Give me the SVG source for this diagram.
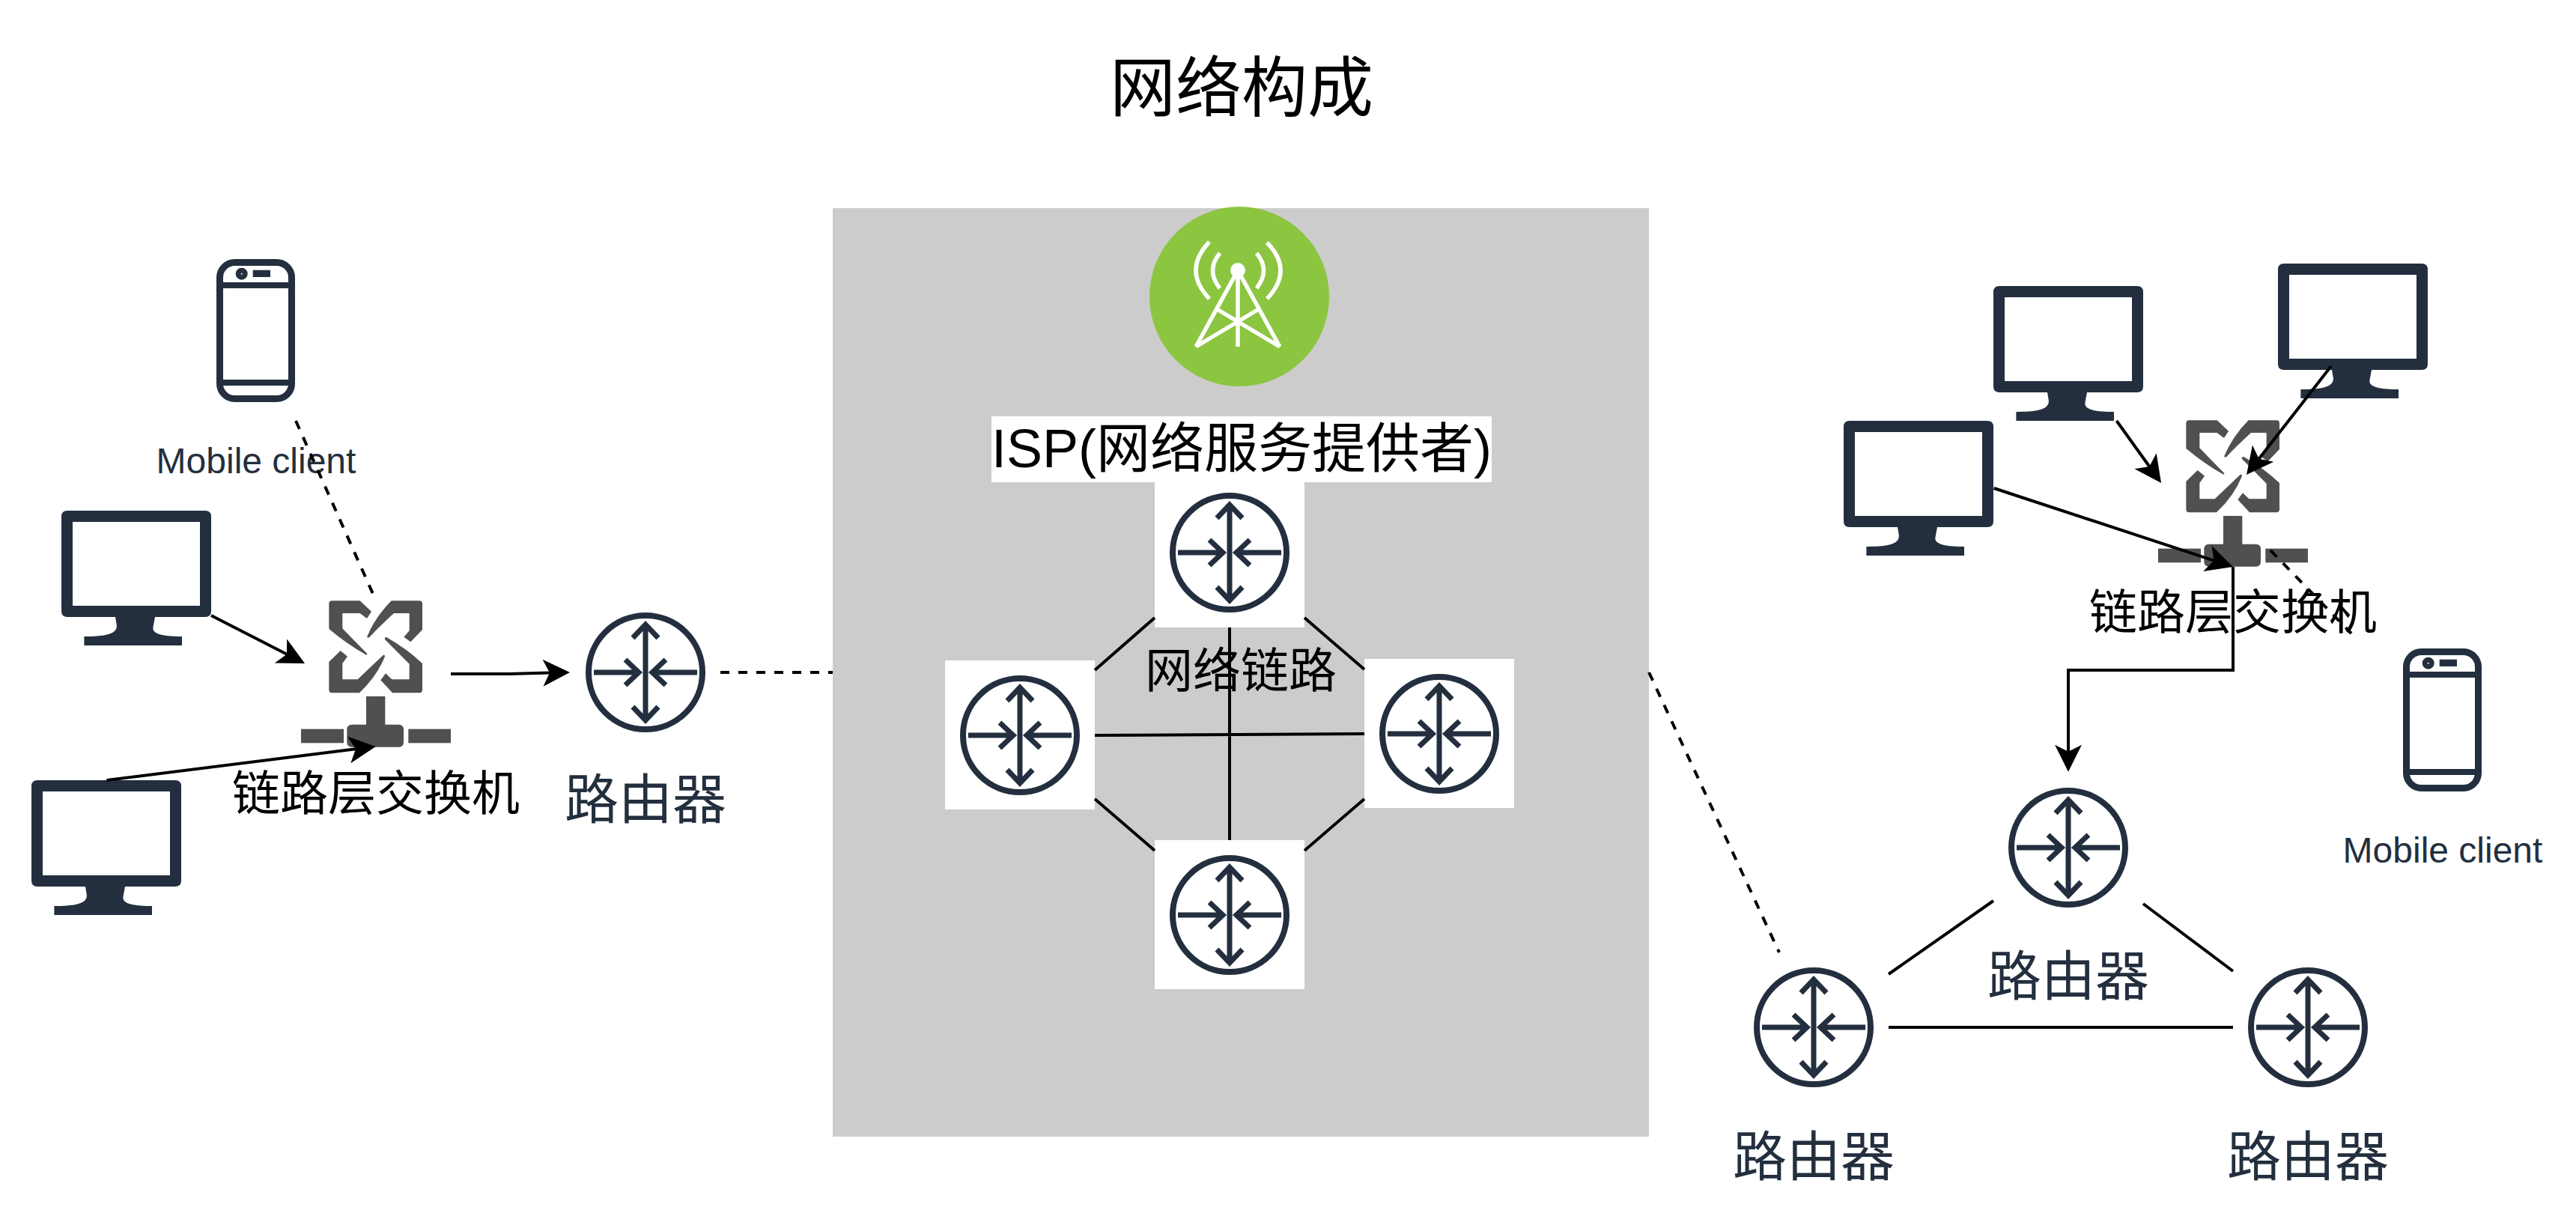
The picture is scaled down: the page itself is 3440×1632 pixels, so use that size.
<svg xmlns="http://www.w3.org/2000/svg" xmlns:xlink="http://www.w3.org/1999/xlink" width="3440" height="1632" viewBox="0 0 3440 1632">
<style>
text{font-family:"Liberation Sans","Noto Sans CJK SC",sans-serif;text-anchor:middle}
.t{fill:#000}
.n{fill:#232F3E}
.s64{font-size:64px}
.s72{font-size:72px}
.s48{font-size:48px}
.ln{fill:none;stroke:#000;stroke-width:4}
.arr{marker-end:url(#head)}
.dash{stroke-dasharray:12 12}
.sq{fill:#fff}
.tw{fill:none;stroke:#fff;stroke-width:5.5}
</style>
<defs>
<marker id="head" markerUnits="userSpaceOnUse" markerWidth="40" markerHeight="40" refX="9" refY="18" orient="auto" overflow="visible"><path d="M36 18L0 0L9 18L0 36Z" fill="#000"/></marker>
<g id="router" fill="none" stroke="#232F3E" stroke-width="7">
<circle r="76" stroke-width="8"/>
<path d="M0-62V62M-17-46L0-64L17-46M-17 46L0 64L17 46M-69 0H-10M-27-17L-9 0L-27 17M69 0H10M27-17L9 0L27 17"/>
</g>
<g id="monitor" fill="#232F3E">
<path fill-rule="evenodd" d="M8 0H192Q200 0 200 8V134Q200 142 192 142H8Q0 142 0 134V8Q0 0 8 0ZM15 15V127H185V15Z"/>
<path d="M30.4 168C55 168 76 166 73.7 152L72 142H125L122.4 156C121 166 140 168 161 168V180H30.4Z"/>
</g>
<g id="phone">
<rect x="4.5" y="4.5" width="96" height="182" rx="20" fill="none" stroke="#232F3E" stroke-width="9"/>
<path d="M4 35H101M4 165H101" stroke="#232F3E" stroke-width="8" fill="none"/>
<circle cx="33.7" cy="19.7" r="4.5" fill="none" stroke="#232F3E" stroke-width="7"/>
<rect x="48.7" y="14.7" width="23.3" height="9.3" fill="#232F3E"/>
</g>
<g id="switch" fill="#505050" transform="scale(.3333)">
<path d="M190 67H302L348 110L330 138L302 117H232V178Q280 228 331 279Q332 285 325 283Q250 240 178 180V79Q178 67 190 67Z"/>
<path d="M428 67H540Q552 67 552 79V183L505 232L478 212L500 187V117H438Q380 170 340 213Q331 218 331 210Q365 130 428 67Z"/>
<path d="M540 436H432L385 385L405 358L430 382H500V320Q450 270 402 222Q400 210 410 214Q490 260 552 318V424Q552 436 540 436Z"/>
<path d="M190 436H300Q370 370 402 290Q400 280 394 286L293 382H232V318L252 290L224 267L178 312V424Q178 436 190 436Z"/>
<path d="M327 450H403V563H457Q477 563 477 583V633Q477 653 457 653H270Q250 653 250 633V583Q250 563 270 563H327Z"/>
<rect x="66" y="581" width="171" height="56"/>
<rect x="496" y="581" width="170" height="56"/>
</g>
</defs>
<rect width="3440" height="1632" fill="#fff"/>
<g id="title"><text class="t" x="1658" y="148" style="font-size:88px">网络构成</text></g>
<g id="isp-area">
<rect x="1112" y="278" width="1090" height="1240" fill="#CCCCCC"/>
</g>
<g id="isp-tower">
<circle cx="1655" cy="396" r="120" fill="#8CC540"/>
<circle cx="1653" cy="361" r="10" fill="#fff"/>
<path class="tw" d="M1653 361L1597 463M1653 361L1709 463M1653 361V463M1627 414L1709 463M1679 414L1597 463"/>
<path class="tw" d="M1629 338Q1610 361 1629 385M1615 323Q1579 361 1615 399M1678 338Q1697 361 1678 385M1692 324Q1728 361 1692 399"/>
</g>
<g id="isp-label">
<rect x="1324" y="556" width="668" height="88" fill="#fff"/>
<text class="t s72" x="1658" y="624">ISP(网络服务提供者)</text>
</g>
<g id="isp-router-top"><rect class="sq" x="1542" y="644" width="200" height="194"/><use href="#router" x="1642" y="738"/></g>
<g id="isp-router-left"><rect class="sq" x="1262" y="882" width="200" height="199"/><use href="#router" x="1362" y="982"/></g>
<g id="isp-router-right"><rect class="sq" x="1822" y="880" width="200" height="199"/><use href="#router" x="1922" y="980"/></g>
<g id="isp-router-bottom"><rect class="sq" x="1542" y="1122" width="200" height="199"/><use href="#router" x="1642" y="1222"/></g>
<g id="isp-link-label"><text class="t s64" x="1657" y="918">网络链路</text></g>

<g id="left-phone"><use href="#phone" x="289" y="346"/><text class="n s48" x="342" y="632">Mobile client</text></g>
<g id="left-monitor-1"><use href="#monitor" x="82" y="682"/></g>
<g id="left-monitor-2"><use href="#monitor" x="42" y="1042"/></g>
<g id="left-switch"><use href="#switch" transform="translate(380 780)"/><text class="t s64" x="502" y="1082">链路层交换机</text></g>
<g id="left-router"><use href="#router" x="862" y="898"/><text class="n s72" x="862" y="1093">路由器</text></g>

<g id="right-monitor-a"><use href="#monitor" x="2662" y="382"/></g>
<g id="right-monitor-b"><use href="#monitor" x="3042" y="352"/></g>
<g id="right-monitor-c"><use href="#monitor" x="2462" y="562"/></g>
<g id="right-switch"><use href="#switch" transform="translate(2860 539)"/><text class="t s64" x="2982" y="840">链路层交换机</text></g>
<g id="right-phone"><use href="#phone" x="3209" y="866"/><text class="n s48" x="3262" y="1152">Mobile client</text></g>
<g id="right-router-top"><use href="#router" x="2762" y="1132"/><text class="n s72" x="2762" y="1329">路由器</text></g>
<g id="right-router-left"><use href="#router" x="2422" y="1372"/><text class="n s72" x="2422" y="1570">路由器</text></g>
<g id="right-router-right"><use href="#router" x="3082" y="1372"/><text class="n s72" x="3082" y="1570">路由器</text></g>

<g id="connectors">
<path class="ln" d="M1542 825L1462 895M1742 825L1822 894M1462 1067L1542 1136M1822 1067L1742 1136M1642 838V1122M1462 982L1822 980"/>
<path class="ln" d="M2662 1203L2522 1301M2862 1207L2982 1297M2522 1372H2982"/>
<path class="ln dash" d="M395 562L498 793"/>
<path class="ln dash" d="M962 898H1112"/>
<path class="ln dash" d="M2202 898L2376 1272"/>
<path class="ln dash" d="M3032 735L3140 846"/>
<path class="ln arr" d="M282 822L383 873.7"/>
<path class="ln arr" d="M142.5 1042L475 1000.3"/>
<path class="ln arr" d="M602 900H680L734 898.6"/>
<path class="ln arr" d="M2826.5 562L2870.3 623"/>
<path class="ln arr" d="M3113 489L3016.6 612.7"/>
<path class="ln arr" d="M2662.7 652L2956.4 748.6"/>
<path class="ln arr" d="M2982 757V895H2762V1003.7"/>
</g>
</svg>
